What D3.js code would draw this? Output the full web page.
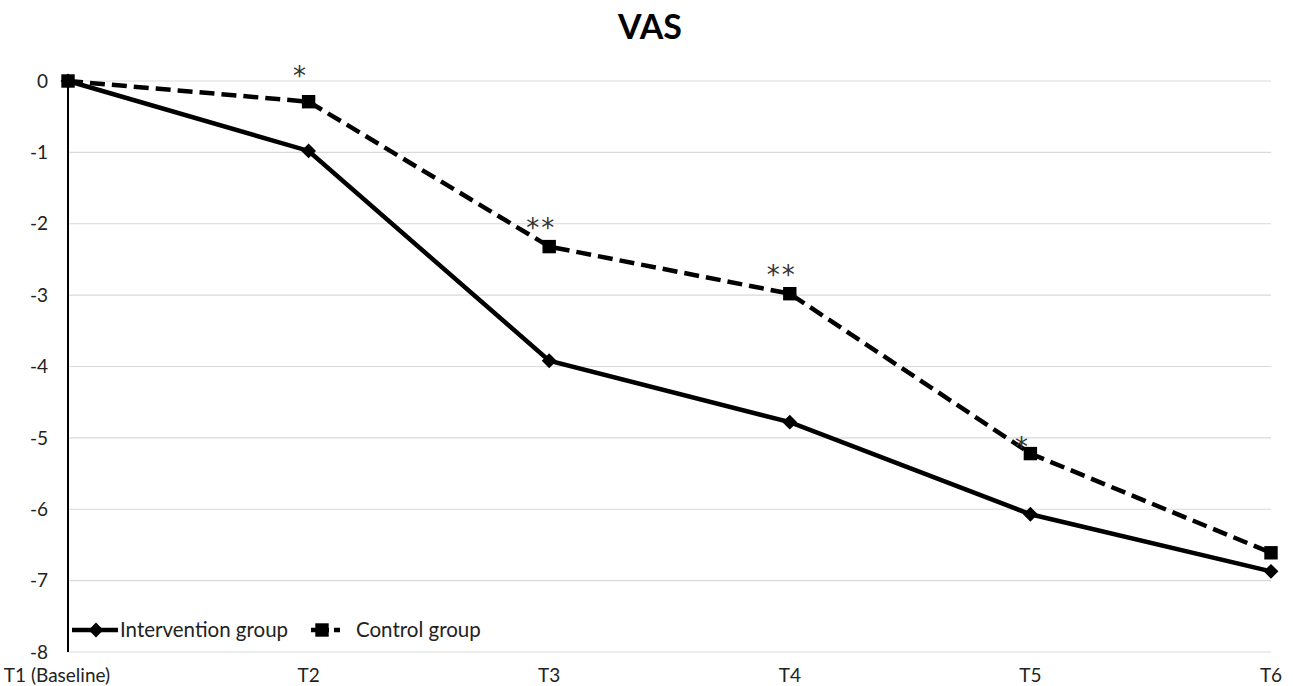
<!DOCTYPE html>
<html>
<head>
<meta charset="utf-8">
<script src="https://cdn.jsdelivr.net/npm/d3@7"></script>
<style>
  body { margin: 0; background: #fff; }
  text { font-family: Lato, "Open Sans", sans-serif; fill: #222; }
</style>
</head>
<body>
<div id="chart"></div>
<script>
var categories = ["T1 (Baseline)", "T2", "T3", "T4", "T5", "T6"];
var intervention = [0, -0.98, -3.92, -4.78, -6.07, -6.87];
var control = [0, -0.29, -2.32, -2.98, -5.22, -6.61];
var significance = ["", "*", "**", "**", "*", ""];
var yTicks = [0, -1, -2, -3, -4, -5, -6, -7, -8];

var width = 1293, height = 686;
var margin = {top: 81, right: 22, bottom: 34, left: 68};

var svg = d3.select("#chart").append("svg")
    .attr("width", width)
    .attr("height", height);

var innerW = width - margin.left - margin.right;
var innerH = height - margin.top - margin.bottom;

var x = d3.scalePoint()
    .domain(categories)
    .range([0, innerW]);

var y = d3.scaleLinear()
    .domain([0, -8])
    .range([0, innerH]);

var g = svg.append("g")
    .attr("transform", "translate(" + margin.left + "," + margin.top + ")");

// gridlines
g.selectAll(".grid").data(yTicks).enter().append("line")
    .attr("class", "grid")
    .attr("x1", 0).attr("x2", innerW)
    .attr("y1", function(d) { return y(d); })
    .attr("y2", function(d) { return y(d); })
    .attr("stroke", "#d9d9d9")
    .attr("stroke-width", 1.2);

// y labels
g.selectAll(".ylab").data(yTicks).enter().append("text")
    .attr("class", "ylab")
    .attr("x", -20)
    .attr("y", function(d) { return y(d); })
    .attr("dy", "0.35em")
    .attr("text-anchor", "end")
    .style("font-size", "19px")
    .text(function(d) { return d; });

// x labels
g.selectAll(".xlab").data(categories).enter().append("text")
    .attr("class", "xlab")
    .attr("x", function(d, i) { return i == 0 ? x(d) - 11 : x(d); })
    .attr("y", innerH + 30)
    .attr("text-anchor", "middle")
    .style("font-size", "19px")
    .text(function(d) { return d; });

// y axis line
g.append("line")
    .attr("x1", 0).attr("x2", 0)
    .attr("y1", y(0)).attr("y2", y(-8))
    .attr("stroke", "#000")
    .attr("stroke-width", 2);

var line = d3.line()
    .x(function(d, i) { return x(categories[i]); })
    .y(function(d) { return y(d); });

// control (dashed)
g.append("path")
    .datum(control)
    .attr("d", line)
    .attr("fill", "none")
    .attr("stroke", "#000")
    .attr("stroke-width", 4.5)
    .attr("stroke-dasharray", "15,7");

// intervention (solid)
g.append("path")
    .datum(intervention)
    .attr("d", line)
    .attr("fill", "none")
    .attr("stroke", "#000")
    .attr("stroke-width", 4.5);

var diamond = d3.symbol().type(d3.symbolSquare).size(110);
var square = d3.symbol().type(d3.symbolSquare).size(180);

g.selectAll(".dia").data(intervention).enter().append("path")
    .attr("class", "dia")
    .attr("d", diamond)
    .attr("transform", function(d, i) { return "translate(" + x(categories[i]) + "," + y(d) + ") rotate(45)"; })
    .attr("fill", "#000");

g.selectAll(".sq").data(control).enter().append("path")
    .attr("class", "sq")
    .attr("d", square)
    .attr("transform", function(d, i) { return "translate(" + x(categories[i]) + "," + y(d) + ")"; })
    .attr("fill", "#000");

// significance markers (placed above the control points)
function sigShift(i) {
    if (i == 1) return -17;
    if (i == 4) return 2;
    return -10;
}

g.selectAll(".sig").data(control).enter().append("text")
    .attr("class", "sig")
    .attr("x", function(d, i) { return x(categories[i]) - 8; })
    .attr("y", function(d, i) { return y(d) + sigShift(i); })
    .attr("text-anchor", "middle")
    .style("font-family", "'DejaVu Sans', sans-serif")
    .style("font-size", "26px")
    .style("letter-spacing", "2px")
    .style("fill", "#333")
    .text(function(d, i) { return significance[i]; });

// title
svg.append("text")
    .attr("x", 650)
    .attr("y", 39)
    .attr("text-anchor", "middle")
    .style("font-size", "34px")
    .style("font-weight", "bold")
    .style("fill", "#000")
    .text("VAS");

// legend
var leg = svg.append("g").attr("transform", "translate(72,630)");
leg.append("line").attr("x1", 0).attr("x2", 46).attr("y1", 0).attr("y2", 0)
    .attr("stroke", "#000").attr("stroke-width", 4.5);
leg.append("path").attr("d", diamond).attr("transform", "translate(24,0) rotate(45)");
leg.append("text").attr("x", 48).attr("y", 0).attr("dy", "0.35em")
    .style("font-size", "20.5px").text("Intervention group");

leg.append("line").attr("x1", 239).attr("x2", 268).attr("y1", 0).attr("y2", 0)
    .attr("stroke", "#000").attr("stroke-width", 4.5).attr("stroke-dasharray", "18,5");
leg.append("path").attr("d", square).attr("transform", "translate(250,0)");
leg.append("text").attr("x", 284).attr("y", 0).attr("dy", "0.35em")
    .style("font-size", "20.5px").text("Control group");
</script>
</body>
</html>
